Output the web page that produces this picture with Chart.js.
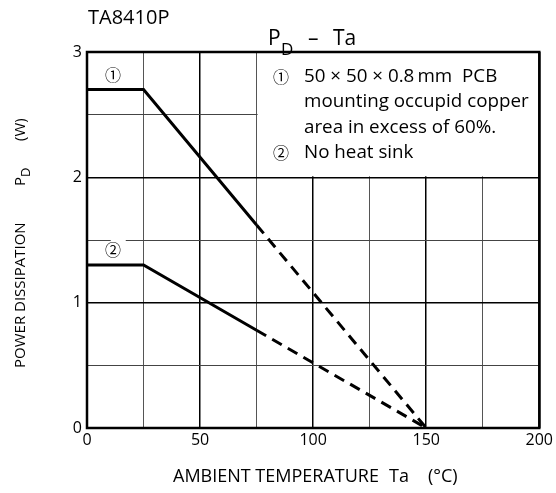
<!DOCTYPE html>
<html>
<head>
<meta charset="utf-8">
<script src="https://cdn.jsdelivr.net/npm/chart.js@4"></script>
<style>
  html, body { margin: 0; padding: 0; background: #fff; }
  #wrap { width: 556px; height: 493px; }
</style>
</head>
<body>
<div id="wrap"><canvas id="pdChart" width="556" height="493"></canvas></div>
<script>
// curve 1: 50x50x0.8 mm PCB, curve 2: no heat sink
const ta1Solid = [0, 25, 75];
const pd1Solid = [2.7, 2.7, 1.62];
const ta1Dash = [75, 150];
const pd1Dash = [1.62, 0];

const ta2Solid = [0, 25, 75];
const pd2Solid = [1.3, 1.3, 0.78];
const ta2Dash = [75, 150];
const pd2Dash = [0.78, 0];

const xTickLabels = [0, 50, 100, 150, 200];
const yTickLabels = [0, 1, 2, 3];

const legendLines = [
  "50 \u00d7 50 \u00d7 0.8\u2009mm  PCB",
  "mounting occupid copper",
  "area in excess of 60%.",
  "No heat sink"
];

const FONT = "'Open Sans', 'Noto Sans', sans-serif";
const CJK = "'Noto Sans CJK JP', sans-serif";

function pts(xs, ys) {
  return xs.map((x, i) => ({ x: x, y: ys[i] }));
}

const extras = {
  id: "extras",
  beforeDatasetsDraw(chart) {
    const ctx = chart.ctx;
    const xs = chart.scales.x, ys = chart.scales.y;
    ctx.save();
    // white box for the note, covers grid
    const l = xs.getPixelForValue(75), r = xs.getPixelForValue(200);
    const t = ys.getPixelForValue(3), b = ys.getPixelForValue(2);
    ctx.fillStyle = "#fff";
    ctx.fillRect(l + 1, t, r - l - 1, b - t - 1);
    // small gap in grid behind (2)
    ctx.fillRect(xs.getPixelForValue(10.5), ys.getPixelForValue(1.5) - 2, 15, 4);
    ctx.restore();
  },
  afterDraw(chart) {
    const ctx = chart.ctx;
    const a = chart.chartArea;
    const xs = chart.scales.x;
    ctx.save();
    ctx.strokeStyle = "#000";
    ctx.lineWidth = 2.5;
    ctx.strokeRect(a.left, a.top, a.right - a.left, a.bottom - a.top);

    ctx.fillStyle = "#000";
    ctx.textBaseline = "middle";
    ctx.textAlign = "left";
    ctx.font = "20px " + FONT;
    ctx.fillText("TA8410P", 88, 18);

    // P_D - Ta
    ctx.font = "21px " + FONT;
    ctx.fillText("P", 268, 39);
    ctx.fillText("\u2013", 308, 39);
    ctx.fillText("Ta", 333, 39);
    ctx.font = "17px " + FONT;
    ctx.fillText("D", 281, 50);

    // curve markers
    ctx.textAlign = "center";
    ctx.font = "16px " + CJK;
    ctx.fillText("\u2460", xs.getPixelForValue(11.5), 75);
    ctx.fillText("\u2461", xs.getPixelForValue(11.5), 250);
    ctx.fillText("\u2460", 281, 77);
    ctx.fillText("\u2461", 281, 153);

    // note text
    ctx.textAlign = "left";
    ctx.font = "18.8px " + FONT;
    ctx.fillText(legendLines[0], 304, 77);
    ctx.fillText(legendLines[1], 304, 102);
    ctx.fillText(legendLines[2], 304, 128);
    ctx.fillText(legendLines[3], 304, 153);

    // x axis title
    ctx.font = "18px " + FONT;
    ctx.fillText("AMBIENT TEMPERATURE", 173, 477);
    ctx.fillText("Ta", 389, 477);
    ctx.fillText("(\u00b0C)", 428, 477);

    // y axis title
    ctx.translate(21, 0);
    ctx.rotate(-Math.PI / 2);
    ctx.font = "15px " + FONT;
    ctx.fillText("POWER DISSIPATION", -368, 0);
    ctx.fillText("P", -186, 0);
    ctx.fillText("(W)", -141, 0);
    ctx.font = "13px " + FONT;
    ctx.fillText("D", -177, 5);
    ctx.restore();
  }
};

const lineStyle = { borderColor: "#000", borderWidth: 3, pointRadius: 0, showLine: true, fill: false, tension: 0 };

new Chart(document.getElementById("pdChart"), {
  type: "scatter",
  data: {
    datasets: [
      Object.assign({ data: pts(ta1Solid, pd1Solid) }, lineStyle),
      Object.assign({ data: pts(ta1Dash, pd1Dash), borderDash: [11, 7] }, lineStyle),
      Object.assign({ data: pts(ta2Solid, pd2Solid) }, lineStyle),
      Object.assign({ data: pts(ta2Dash, pd2Dash), borderDash: [11, 7] }, lineStyle)
    ]
  },
  options: {
    responsive: false,
    animation: false,
    layout: { padding: { left: 0, top: 52, right: 15, bottom: 0 } },
    plugins: { legend: { display: false }, tooltip: { enabled: false } },
    scales: {
      x: {
        type: "linear", min: 0, max: 200,
        afterFit: s => { s.height = 65; },
        border: { display: false },
        grid: {
          drawTicks: false,
          color: c => xTickLabels.includes(c.tick.value) ? "#000" : "#555",
          lineWidth: c => xTickLabels.includes(c.tick.value) ? 1.5 : 1
        },
        ticks: {
          stepSize: 25, padding: 3, color: "#000", maxRotation: 0,
          font: { size: 16, family: FONT },
          callback: v => xTickLabels.includes(v) ? String(v) : ""
        }
      },
      y: {
        type: "linear", min: 0, max: 3,
        afterFit: s => { s.width = 87; },
        border: { display: false },
        grid: {
          drawTicks: false,
          color: c => yTickLabels.includes(c.tick.value) ? "#000" : "#444",
          lineWidth: c => yTickLabels.includes(c.tick.value) ? 1.5 : 1
        },
        ticks: {
          stepSize: 0.5, padding: 5, color: "#000",
          font: { size: 16, family: FONT },
          callback: v => yTickLabels.includes(v) ? String(v) : ""
        }
      }
    }
  },
  plugins: [extras]
});
</script>
</body>
</html>
